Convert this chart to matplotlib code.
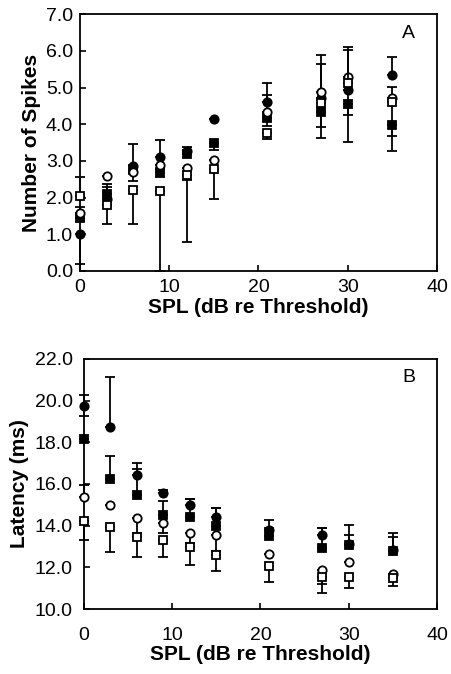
import numpy as np
import matplotlib.pyplot as plt

plt.rcParams['font.family'] = ['Liberation Sans', 'DejaVu Sans']

# SPL levels (dB re threshold)
spl = [0, 3, 6, 9, 12, 15, 21, 27, 30, 35]

# ---- Panel A: number of spikes ----
a_fc = [1.00, 1.95, 2.85, 3.10, 3.28, 4.15, 4.60, 4.72, 4.92, 5.33]
a_fc_lo = [0.80, 0.00, 0.00, 0.00, 0.00, 0.00, 0.00, 0.00, 1.40, 0.00]
a_fc_hi = [0.00, 0.33, 0.62, 0.47, 0.10, 0.00, 0.52, 0.93, 0.00, 0.50]

a_fs = [1.45, 2.10, 2.75, 2.70, 3.20, 3.50, 4.17, 4.33, 4.55, 3.98]
a_fs_lo = [0.10, 0.00, 0.00, 0.00, 0.00, 0.20, 0.22, 0.40, 0.30, 0.30]
a_fs_hi = [0.00, 0.27, 0.15, 0.07, 0.00, 0.00, 0.00, 0.00, 0.00, 0.00]

a_oc = [1.57, 2.60, 2.70, 2.88, 2.80, 3.02, 4.33, 4.88, 5.28, 4.71]
a_oc_lo = [0.00, 0.00, 0.25, 0.33, 0.32, 0.00, 0.00, 0.00, 0.00, 0.00]
a_oc_hi = [0.18, 0.00, 0.00, 0.00, 0.00, 0.00, 0.47, 1.02, 0.83, 0.30]

a_os = [2.05, 1.80, 2.22, 2.18, 2.62, 2.77, 3.77, 4.58, 5.12, 4.60]
a_os_lo = [0.00, 0.52, 0.95, 2.18, 1.82, 0.80, 0.17, 0.95, 0.00, 1.33]
a_os_hi = [0.50, 0.00, 0.00, 0.00, 0.00, 0.00, 0.00, 0.00, 0.90, 0.00]

# ---- Panel B: latency (ms) ----
b_fc = [19.72, 18.72, 16.45, 15.55, 15.00, 14.40, 13.80, 13.55, 13.10, 12.85]
b_fc_lo = [0.45, 0.00, 0.00, 0.00, 0.00, 0.00, 0.00, 0.00, 0.00, 0.00]
b_fc_hi = [0.55, 2.40, 0.55, 0.15, 0.30, 0.45, 0.45, 0.35, 0.45, 0.60]

b_fs = [18.18, 16.22, 15.47, 14.50, 14.42, 14.00, 13.50, 12.93, 13.07, 12.80]
b_fs_lo = [0.00, 0.00, 0.00, 0.00, 0.00, 0.00, 0.00, 0.00, 0.00, 0.00]
b_fs_hi = [0.00, 1.10, 1.25, 0.70, 0.88, 0.85, 0.40, 0.95, 0.95, 0.85]

b_oc = [15.40, 15.00, 14.35, 14.12, 13.63, 13.55, 12.65, 11.87, 12.26, 11.68]
b_oc_lo = [0.00, 0.00, 0.68, 0.45, 0.45, 0.78, 0.00, 0.65, 0.00, 0.00]
b_oc_hi = [0.55, 0.00, 0.00, 0.00, 0.00, 0.00, 0.00, 0.00, 0.00, 0.00]

b_os = [14.22, 13.92, 13.45, 13.30, 13.00, 12.60, 12.08, 11.54, 11.54, 11.50]
b_os_lo = [0.90, 1.20, 0.95, 0.80, 0.88, 0.78, 0.78, 0.75, 0.55, 0.40]
b_os_hi = [0.00, 0.00, 0.00, 0.00, 0.00, 0.00, 0.00, 0.00, 0.00, 0.00]

fig = plt.figure(figsize=(4.51, 6.74), dpi=100)
axA = fig.add_axes([0.177, 0.598, 0.792, 0.381])
axB = fig.add_axes([0.186, 0.0964, 0.783, 0.371])


def draw(ax, series):
    styles = [('o', 'black'), ('s', 'black'), ('o', 'white'), ('s', 'white')]
    for k, ((y, lo, hi), (m, fc)) in enumerate(zip(series, styles)):
        ax.errorbar(spl, y, yerr=[lo, hi], fmt=m, mfc=fc, mec='black',
                    mew=1.3, ms=6 if m == 'o' else 5.5, ecolor='black',
                    elinewidth=1.3, capsize=3.8, capthick=1.3,
                    zorder=3 + k, clip_on=False)


draw(axA, [(a_fc, a_fc_lo, a_fc_hi), (a_fs, a_fs_lo, a_fs_hi),
           (a_oc, a_oc_lo, a_oc_hi), (a_os, a_os_lo, a_os_hi)])
draw(axB, [(b_fc, b_fc_lo, b_fc_hi), (b_fs, b_fs_lo, b_fs_hi),
           (b_oc, b_oc_lo, b_oc_hi), (b_os, b_os_lo, b_os_hi)])

# per panel: y range, label, letter, x tick pad, y tick pad, ylabel pad
for ax, (ylo, yhi, ystep), lab, letter, xpad, ypad, ylpad in [
        (axA, (0, 7, 1), 'Number of Spikes', 'A', 6, 5, 3),
        (axB, (10, 22, 2), 'Latency (ms)', 'B', 13, 8, 4)]:
    ax.set_xlim(0, 40)
    ax.set_ylim(ylo, yhi)
    ax.set_xticks([0, 10, 20, 30, 40])
    ax.set_yticks(np.arange(ylo, yhi + 0.01, ystep))
    ax.set_yticklabels(['%.1f' % v for v in np.arange(ylo, yhi + 0.01, ystep)])
    ax.tick_params(direction='in', length=4, width=1.2, labelsize=14)
    ax.tick_params(axis='x', pad=xpad)
    ax.tick_params(axis='y', pad=ypad)
    for s in ax.spines.values():
        s.set_linewidth(1.3)
    ax.set_xlabel('SPL (dB re Threshold)', fontsize=15, fontweight='bold', labelpad=1)
    ax.set_ylabel(lab, fontsize=15, fontweight='bold', labelpad=ylpad)
    ax.text(0.92, 0.925, letter, transform=ax.transAxes, fontsize=14,
            ha='center', va='center')

fig.savefig('out.png', dpi=100)
